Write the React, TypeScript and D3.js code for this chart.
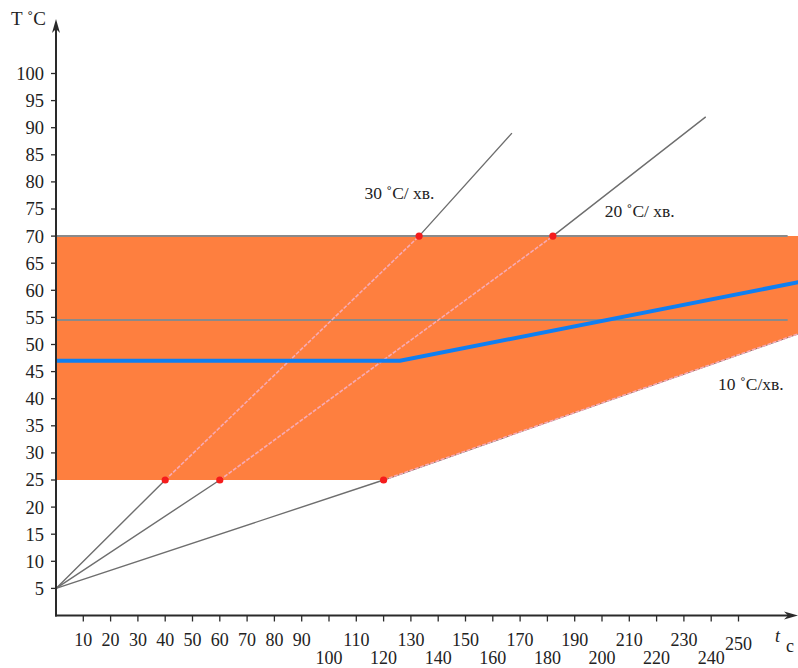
import React from "react";
import * as d3 from "d3";

const yTicks = [5, 10, 15, 20, 25, 30, 35, 40, 45, 50, 55, 60, 65, 70, 75, 80, 85, 90, 95, 100];
const xTicks = [10, 20, 30, 40, 50, 60, 70, 80, 90, 100, 110, 120, 130, 140, 150, 160, 170, 180, 190, 200, 210, 220, 230, 240, 250];
const xTickLow = [100, 120, 140, 160, 180, 200, 220, 240];

const rate30: [number, number][] = [[0, 5], [40, 25], [133, 70], [167, 89]];
const rate20: [number, number][] = [[0, 5], [60, 25], [182, 70], [238, 92]];
const rate10: [number, number][] = [[0, 5], [120, 25], [272, 52]];
const zone: [number, number][] = [[0, 70], [272, 70], [272, 52], [120, 25], [0, 25]];
const bluePath: [number, number][] = [[0, 47], [126, 47], [272, 61.5]];
const refLevels = [70, 54.5];
const refEnd = 268;
const points: [number, number][] = [[40, 25], [60, 25], [120, 25], [133, 70], [182, 70]];

const rateLabels = [
  { text: "30 ˚C/ хв.", t: 113, T: 78 },
  { text: "20 ˚C/ хв.", t: 201, T: 74.6 },
  { text: "10 ˚C/хв.", t: 242.5, T: 42.8 },
];

export default function App() {
  const W = 798, H = 668;
  const x = d3.scaleLinear().domain([0, 250]).range([56, 738.5]);
  const y = d3.scaleLinear().domain([0, 100]).range([615.5, 73.5]);
  const line = d3.line<[number, number]>().x(d => x(d[0])).y(d => y(d[1]));
  const font = "Liberation Serif, DejaVu Serif, Times New Roman, serif";
  const x0 = x(0), y0 = y(0);

  return (
    <div style={{ position: "absolute", left: 0, top: 0 }}>
      <svg width={W} height={H} style={{ display: "block", background: "#fff", fontFamily: font }}>
        {[rate30, rate20, rate10].map((d, i) => (
          <path key={i} d={line(d) || ""} fill="none" stroke="#6e6e6e" strokeWidth={1.4} />
        ))}
        <path d={(line(zone) || "") + "Z"} fill="#fe7f3f" stroke="none" />
        {refLevels.map((v, i) => (
          <line key={i} x1={x0} x2={x(refEnd)} y1={y(v)} y2={y(v)} stroke="#8a8a8a" strokeWidth={2} />
        ))}
        {[rate30.slice(1, 3), rate20.slice(1, 3), rate10.slice(1, 3)].map((d, i) => (
          <path key={i} d={line(d) || ""} fill="none" stroke="#f7aab4" strokeWidth={1.6} strokeDasharray="4 1.5" />
        ))}
        <path d={line(bluePath) || ""} fill="none" stroke="#0f7ff2" strokeWidth={4} />
        {points.map((p, i) => (
          <circle key={i} cx={x(p[0])} cy={y(p[1])} r={3.6} fill="#f51c1c" />
        ))}
        <line x1={x0} x2={x0} y1={y0 + 1} y2={26} stroke="#2a2a2a" strokeWidth={2} />
        <path d={`M${x0},19 L${x0 - 4},33 L${x0},29 L${x0 + 4},33 Z`} fill="#2a2a2a" />
        <line x1={x0 - 1} x2={790} y1={y0} y2={y0} stroke="#2a2a2a" strokeWidth={2} />
        <path d={`M798,${y0} L784,${y0 - 4} L788,${y0} L784,${y0 + 4} Z`} fill="#2a2a2a" />
        {yTicks.map(v => (
          <g key={v}>
            <line x1={x0 - 5} x2={x0} y1={y(v)} y2={y(v)} stroke="#2a2a2a" strokeWidth={1.3} />
            <text x={44} y={y(v)} dy="0.35em" textAnchor="end" fontSize={18.5} fill="#222">{v}</text>
          </g>
        ))}
        {xTicks.map(v => (
          <g key={v}>
            <line x1={x(v)} x2={x(v)} y1={y0} y2={y0 + 6} stroke="#2a2a2a" strokeWidth={1.3} />
            <text x={x(v)} y={xTickLow.includes(v) ? 658 : v === 250 ? 644 : 640} dy="0.35em" textAnchor="middle" fontSize={18} fill="#222">{v}</text>
          </g>
        ))}
        <text x={11} y={18} dy="0.35em" fontSize={19} fill="#222">T ˚C</text>
        <text x={775} y={636} dy="0.35em" fontSize={18} fontStyle="italic" fill="#222">t</text>
        <text x={786} y={646} dy="0.35em" fontSize={18} fill="#222">c</text>
        {rateLabels.map((l, i) => (
          <text key={i} x={x(l.t)} y={y(l.T)} dy="0.35em" fontSize={17.5} fill="#222">{l.text}</text>
        ))}
      </svg>
    </div>
  );
}
